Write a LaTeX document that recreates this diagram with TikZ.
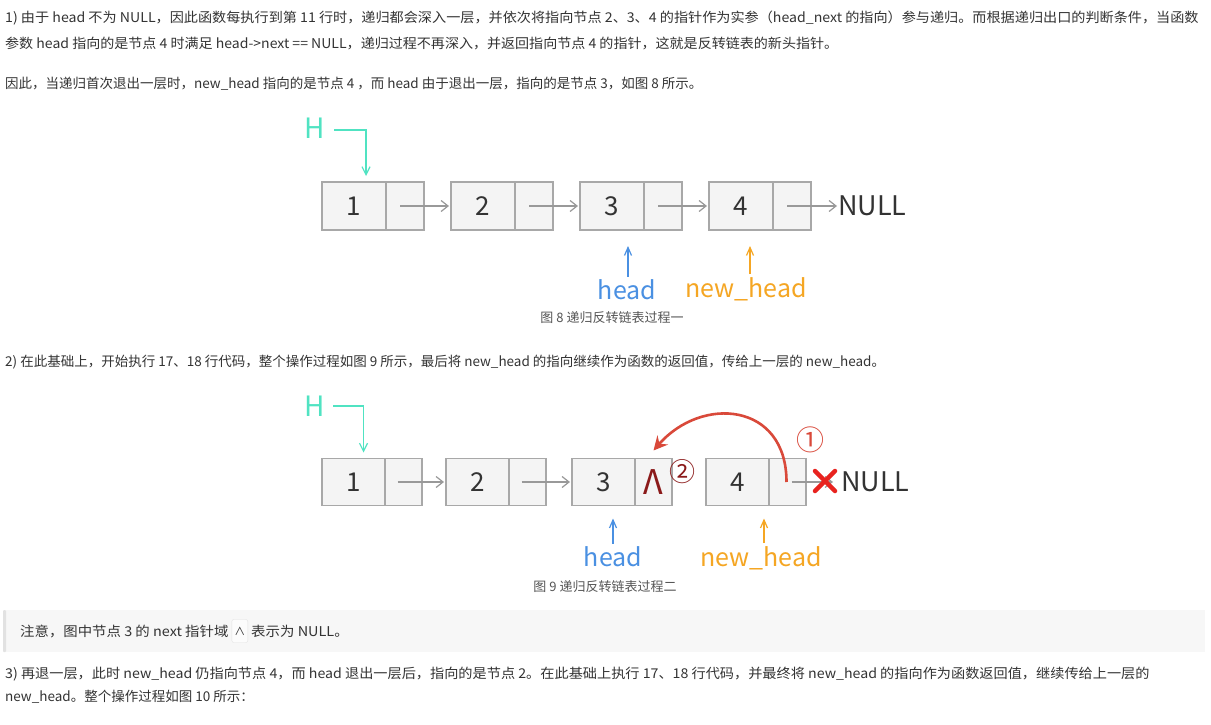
\documentclass[tikz,border=0pt]{standalone}
\usepackage{graphicx}
\usepackage{fontspec}
\setmainfont{Noto Sans CJK SC}
\usetikzlibrary{positioning,arrows.meta}
\definecolor{bodytext}{HTML}{333333}
\definecolor{captext}{HTML}{555555}
\definecolor{boxline}{HTML}{A8A8A8}
\definecolor{boxfill}{HTML}{F4F4F4}
\definecolor{numtext}{HTML}{333333}
\definecolor{linkgray}{HTML}{999999}
\definecolor{hcolor}{HTML}{50E3C2}
\definecolor{headblue}{HTML}{4A90E2}
\definecolor{neworange}{HTML}{F5A623}
\definecolor{curvered}{HTML}{D9493A}
\definecolor{crossred}{HTML}{E8231F}
\definecolor{darkred}{HTML}{8B1A1A}
\definecolor{notebg}{HTML}{F7F7F7}
\definecolor{notebar}{HTML}{E2E2E2}
\begin{document}
\begin{tikzpicture}[x=1pt,y=-1pt,
	txt/.style={anchor=west,inner sep=0,text=bodytext,font=\fontsize{13.5}{16}\selectfont},
	caption/.style={inner sep=0,text=captext,font=\fontsize{13}{15}\selectfont},
	val/.style={draw=boxline,fill=boxfill,line width=1.2pt,minimum width=64pt,minimum height=48pt,inner sep=0,outer sep=0,text=numtext,font=\fontsize{26}{28}\selectfont},
	ptr/.style={val,minimum width=38pt},
	link/.style={draw=linkgray,line width=1.2pt,-{Straight Barb[length=7pt,width=11pt]}},
	nulltext/.style={anchor=west,inner sep=0,text=numtext,font=\fontsize{27}{29}\selectfont},
	hlabel/.style={inner sep=0,text=hcolor,font=\fontsize{28}{30}\selectfont},
	hline/.style={draw=hcolor,line width=1.2pt,-{Straight Barb[length=8pt,width=8pt]}},
	headlbl/.style={inner sep=0,text=headblue,font=\fontsize{25}{27}\selectfont},
	headarr/.style={draw=headblue,line width=1.2pt,-{Straight Barb[length=8pt,width=7pt]}},
	newlbl/.style={inner sep=0,text=neworange,font=\fontsize{25}{27}\selectfont},
	newarr/.style={draw=neworange,line width=1.2pt,-{Straight Barb[length=8pt,width=7pt]}},
	redarr/.style={draw=curvered,line width=2.6pt,-{Stealth[length=14pt,width=14pt,inset=5pt]}},
]
\useasboundingbox[fill=white] (0,0) rectangle (1211,725);

% text above figure 8
\node[txt] (t1) at (5,18) {\scalebox{1.047}[1]{1) 由于 head 不为 NULL，因此函数每执行到第 11 行时，递归都会深入一层，并依次将指向节点 2、3、4 的指针作为实参（head\_next 的指向）参与递归。而根据递归出口的判断条件，当函数}};
\node[txt] (t2) at (5,44) {\scalebox{1.04}[1]{参数 head 指向的是节点 4 时满足 head->next == NULL，递归过程不再深入，并返回指向节点 4 的指针，这就是反转链表的新头指针。}};
\node[txt] (t3) at (5,84) {因此，当递归首次退出一层时，new\_head 指向的是节点 4 ，而 head 由于退出一层，指向的是节点 3，如图 8 所示。};

% figure 8
\foreach \n/\x in {1/322,2/451,3/580,4/709} {
	\node[val,anchor=west] (v\n) at (\x,206) {\n};
	\node[ptr,right=0pt of v\n] (p\n) {};
}
\foreach \a/\b in {1/2,2/3,3/4}
	\draw[link] ([xshift=-5pt]p\a.center) -- ([xshift=-2pt]v\b.west);
\node[nulltext] (null1) at (838,206) {NULL};
\draw[link] ([xshift=-5pt]p4.center) -- ([xshift=-1pt]null1.west);
\node[hlabel] (h1) at (315,128) {H};
\draw[hline] ([xshift=9pt,yshift=-2pt]h1.east) -| ([xshift=12pt,yshift=6pt]v1.north);
\node[headlbl] (hd1) at (627,290) {head};
\draw[headarr] ([xshift=1pt,yshift=3pt]hd1.north) -- ([xshift=1pt,yshift=-16pt]hd1.north |- v3.south);
\node[newlbl] (nh1) at (746,289) {new\_head};
\draw[newarr] ([xshift=4pt,yshift=3pt]nh1.north) -- ([xshift=4pt,yshift=-16pt]nh1.north |- v4.south);
\node[caption] (c1) at (612,318) {图 8 递归反转链表过程一};

\node[txt] (t4) at (5,362) {2) 在此基础上，开始执行 17、18 行代码，整个操作过程如图 9 所示，最后将 new\_head 的指向继续作为函数的返回值，传给上一层的 new\_head。};

% figure 9
\foreach \n/\x in {1/322,2/446,3/572,4/706} {
	\node[val,anchor=west,minimum width=63pt,minimum height=47pt] (w\n) at (\x,482) {\n};
	\node[ptr,minimum width=37pt,minimum height=47pt,right=0pt of w\n] (q\n) {};
}
\foreach \a/\b in {1/2,2/3}
	\draw[link] ([xshift=-6pt]q\a.center) -- ([xshift=-2pt]w\b.west);
\node[text=darkred,font=\fontsize{34}{36}\selectfont,inner sep=0] (lam) at (q3.center) {Λ};
\node[text=darkred,font=\fontsize{26}{28}\selectfont,inner sep=0] (two) at (682,472) {②};
\node[text=curvered,font=\fontsize{28}{30}\selectfont,inner sep=0] (one) at (810,440) {①};
\node[nulltext] (null2) at (841,482) {NULL};
\draw[link] ([xshift=4pt]q4.center) -- ([xshift=-8pt]null2.west);
\coordinate (cut) at (825,481);
\draw[crossred,line width=4.5pt,line cap=round] ([xshift=-10pt,yshift=10pt]cut) -- ([xshift=10pt,yshift=-10pt]cut)
	([xshift=-10pt,yshift=-10pt]cut) -- ([xshift=10pt,yshift=10pt]cut);
\draw[redarr] ([xshift=-1pt]q4.center) .. controls +(0,-80) and +(48,-55) .. ([yshift=8pt]q3.north);
\node[hlabel] (h2) at (315,406) {H};
\draw[hline] ([xshift=8pt]h2.east) -| ([xshift=10pt,yshift=6pt]w1.north);
\node[headlbl] (hd2) at (613,557) {head};
\draw[headarr] ([yshift=3pt]hd2.north) -- ([yshift=-13pt]hd2.north |- w3.south);
\node[newlbl] (nh2) at (761,558) {new\_head};
\draw[newarr] ([xshift=3pt,yshift=3pt]nh2.north) -- ([xshift=3pt,yshift=-13pt]nh2.north |- w4.south);
\node[caption] (c2) at (605,587) {图 9 递归反转链表过程二};

% note box
\fill[notebg] (5,610) rectangle (1205,652);
\fill[notebar,rounded corners=1pt] (3,610) rectangle (6,652);
\node[txt] (n1) at (20,631) {\scalebox{1.067}[1]{注意，图中节点 3 的 next 指针域}};
\node[draw=notebar,fill=white!60!notebg,rounded corners=2pt,inner sep=0,minimum width=16pt,minimum height=23pt,text=bodytext,font=\fontsize{11}{12}\selectfont,right=3pt of n1] (n2) {∧};
\node[txt,right=3pt of n2] (n3) {\scalebox{1.07}[1]{表示为 NULL。}};

\node[txt] (t5) at (5,674) {\scalebox{1.05}[1]{3) 再退一层，此时 new\_head 仍指向节点 4，而 head 退出一层后，指向的是节点 2。在此基础上执行 17、18 行代码，并最终将 new\_head 的指向作为函数返回值，继续传给上一层的}};
\node[txt] (t6) at (5,697) {new\_head。整个操作过程如图 10 所示：};
\end{tikzpicture}
\end{document}
